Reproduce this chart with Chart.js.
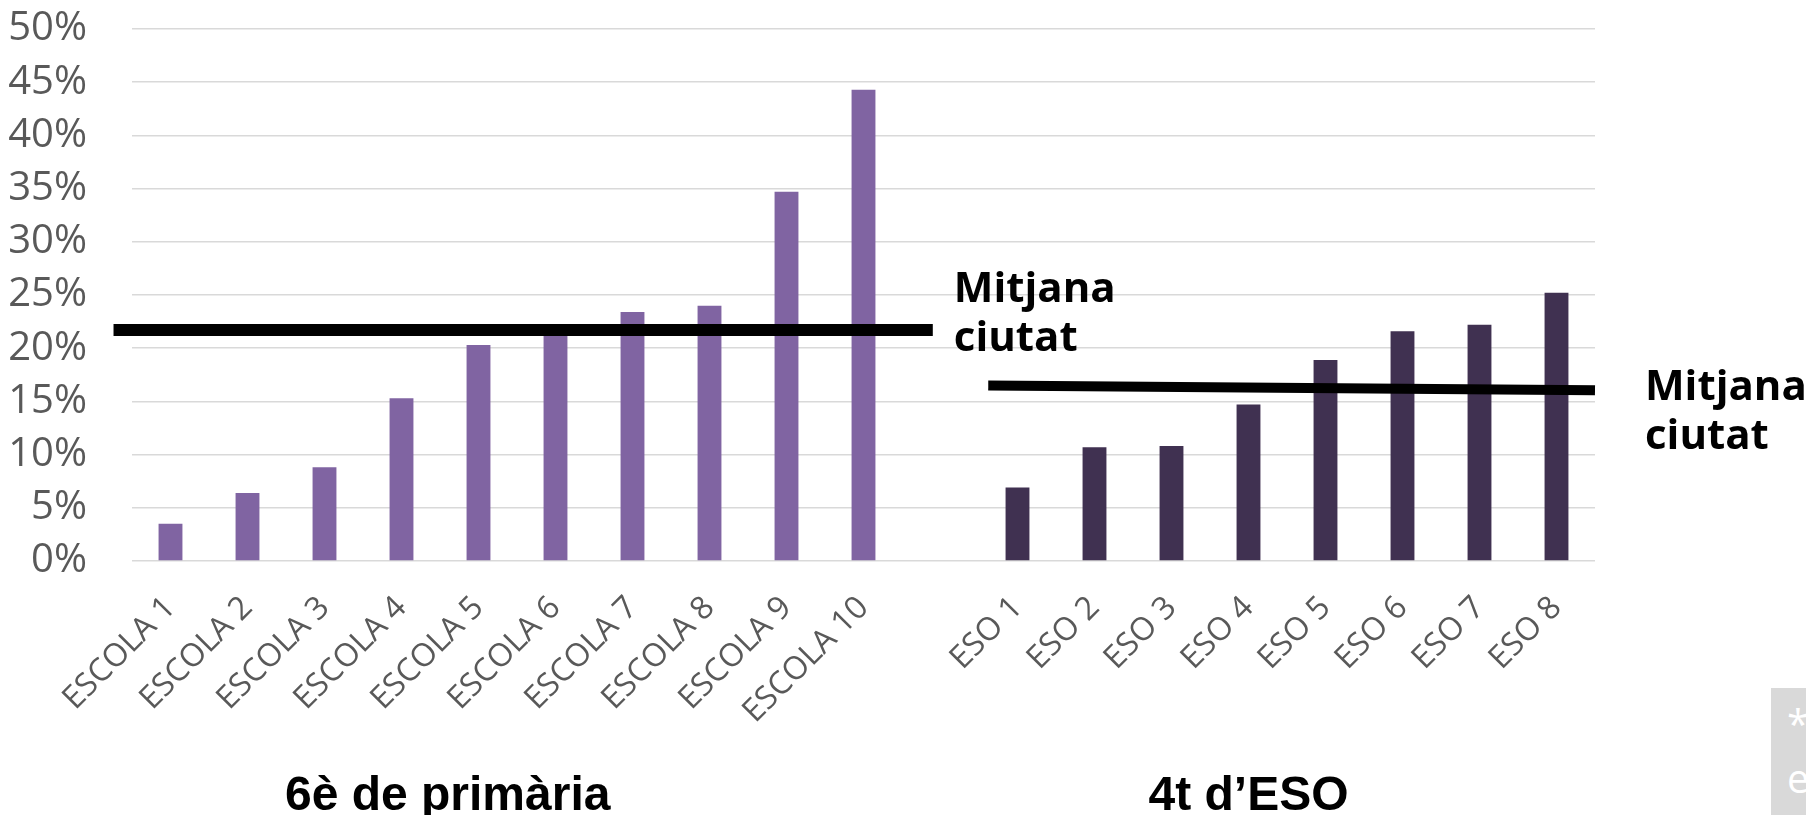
<!DOCTYPE html>
<html>
<head>
<meta charset="utf-8">
<script src="https://cdn.jsdelivr.net/npm/chart.js@4.4.1/dist/chart.umd.min.js"></script>
<style>
  body { margin: 0; background: #fff; }
  .wrap { position: relative; width: 1806px; height: 815px; overflow: hidden; }
  .note {
    position: absolute; left: 1771px; top: 688px; width: 80px; height: 127px;
    background: #d9d9d9; color: #fff; font-family: 'Open Sans', sans-serif; font-size: 40px;
  }
  .note span { position: absolute; left: 16px; }
</style>
</head>
<body>
<div class="wrap">
  <canvas id="bar_chart" width="1806" height="815"></canvas>
  <div class="note"><span style="top:8px">*</span><span style="top:62px">e</span></div>
</div>
<script>
const escoles = ['ESCOLA 1', 'ESCOLA 2', 'ESCOLA 3', 'ESCOLA 4', 'ESCOLA 5', 'ESCOLA 6', 'ESCOLA 7', 'ESCOLA 8', 'ESCOLA 9', 'ESCOLA 10'];
const esos = ['ESO 1', 'ESO 2', 'ESO 3', 'ESO 4', 'ESO 5', 'ESO 6', 'ESO 7', 'ESO 8'];
const primariaValues = [3.5, 6.4, 8.8, 15.3, 20.3, 21.5, 23.4, 24.0, 34.7, 44.3];
const esoValues = [6.9, 10.7, 10.8, 14.7, 18.9, 21.6, 22.2, 25.2];
const mitjanaPrimaria = [21.7, 21.7];
const mitjanaEso = [16.5, 16.05];
const groupTitles = ['6è de primària', '4t d’ESO'];
const mitjanaLabel = ['Mitjana', 'ciutat'];

// one empty slot between the two groups
const labels = [...escoles, '', ...esos];
const gap = escoles.length + 1;

const overlay = {
  id: 'overlay',
  afterDatasetsDraw(chart) {
    const { ctx, scales: { x, y } } = chart;
    ctx.save();
    ctx.strokeStyle = '#000';
    ctx.lineCap = 'butt';

    ctx.lineWidth = 12;
    ctx.beginPath();
    ctx.moveTo(x.getPixelForValue(-0.74), y.getPixelForValue(mitjanaPrimaria[0]));
    ctx.lineTo(x.getPixelForValue(9.9), y.getPixelForValue(mitjanaPrimaria[1]));
    ctx.stroke();

    ctx.lineWidth = 10;
    ctx.beginPath();
    ctx.moveTo(x.getPixelForValue(10.62), y.getPixelForValue(mitjanaEso[0]));
    ctx.lineTo(x.getPixelForValue(18.5), y.getPixelForValue(mitjanaEso[1]));
    ctx.stroke();
    ctx.restore();
  },
  afterDraw(chart) {
    const { ctx, scales: { x, y } } = chart;
    ctx.save();
    ctx.fillStyle = '#000';
    ctx.textAlign = 'left';
    ctx.textBaseline = 'alphabetic';
    ctx.font = 'bold 42px "Open Sans"';

    let lx = x.getPixelForValue(9.9) + 21;
    let ly = y.getPixelForValue(mitjanaPrimaria[1]);
    ctx.fillText(mitjanaLabel[0], lx, ly - 28);
    ctx.fillText(mitjanaLabel[1], lx, ly + 21);

    lx = x.getPixelForValue(18.5) + 50;
    ly = y.getPixelForValue(mitjanaEso[1]);
    ctx.fillText(mitjanaLabel[0], lx, ly + 10);
    ctx.fillText(mitjanaLabel[1], lx, ly + 59);

    // group titles under the rotated labels
    ctx.textAlign = 'center';
    ctx.font = 'bold 48px "Liberation Sans", Arial';
    const ty = y.getPixelForValue(0) + 249;
    ctx.fillText(groupTitles[0], x.getPixelForValue(3.6), ty);
    ctx.fillText(groupTitles[1], x.getPixelForValue(14), ty);
    ctx.restore();
  }
};

const config = {
  type: 'bar',
  data: {
    labels: labels,
    datasets: [
      {
        label: groupTitles[0],
        data: labels.map((l, i) => i < escoles.length ? primariaValues[i] : null),
        backgroundColor: '#8064A2',
        grouped: false
      },
      {
        label: groupTitles[1],
        data: labels.map((l, i) => i >= gap ? esoValues[i - gap] : null),
        backgroundColor: '#403151',
        grouped: false
      }
    ]
  },
  options: {
    responsive: false,
    animation: false,
    barPercentage: 0.31,
    categoryPercentage: 1,
    layout: { padding: { top: 29, right: 211, left: 0, bottom: 0 } },
    plugins: {
      legend: { display: false },
      tooltip: { enabled: false }
    },
    scales: {
      x: {
        grid: { display: false },
        border: { display: false },
        ticks: {
          minRotation: 45,
          maxRotation: 45,
          autoSkip: false,
          padding: 20,
          color: '#595959',
          font: { family: 'Open Sans', size: 32 }
        },
        afterFit(scale) { scale.height = 254; }
      },
      y: {
        min: 0,
        max: 50,
        grid: { color: '#d9d9d9', lineWidth: 1.5, drawTicks: false },
        border: { display: false },
        ticks: {
          stepSize: 5,
          autoSkip: false,
          padding: 45,
          color: '#595959',
          font: { family: 'Open Sans', size: 40 },
          callback: v => v + '%'
        },
        afterFit(scale) {
          scale.width = 132;
          scale.paddingTop = 0;
          scale.paddingBottom = 0;
        }
      }
    }
  },
  plugins: [overlay]
};

document.addEventListener('DOMContentLoaded', () => {
  const bar = document.getElementById('bar_chart');
  new Chart(bar.getContext('2d'), config);
});
</script>
</body>
</html>
